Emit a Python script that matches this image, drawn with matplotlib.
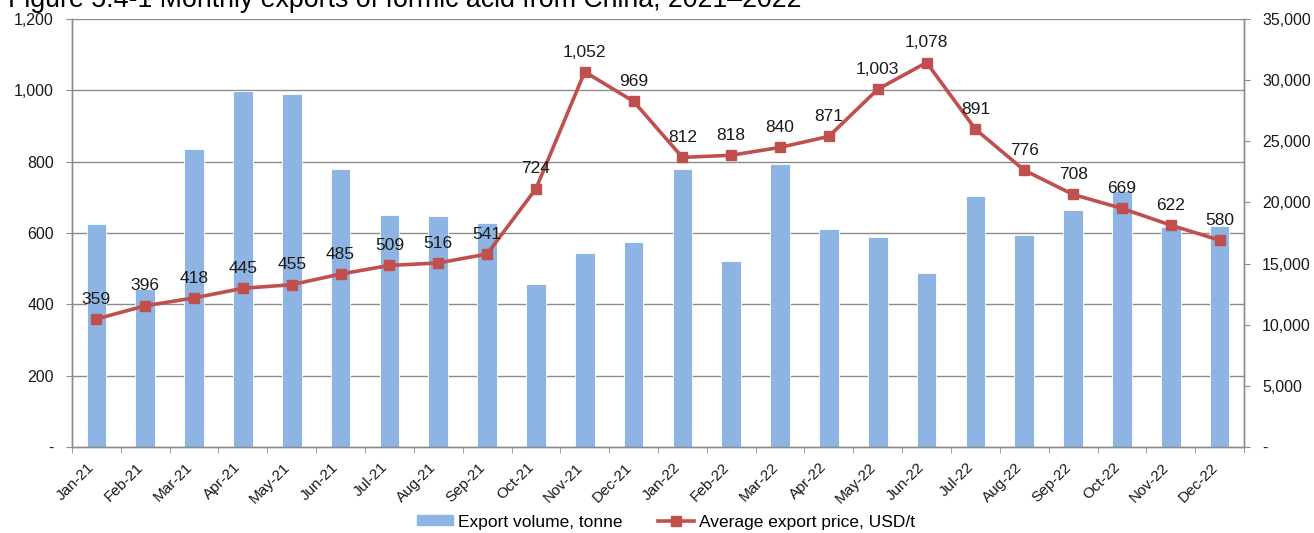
import matplotlib
matplotlib.use("Agg")
import matplotlib.pyplot as plt
import numpy as np
from matplotlib.ticker import FuncFormatter, FixedLocator
from matplotlib.patches import Patch
from matplotlib.lines import Line2D
from matplotlib.transforms import ScaledTranslation

plt.rcParams['font.family'] = ['Liberation Sans', 'DejaVu Sans']

months = ["Jan-21", "Feb-21", "Mar-21", "Apr-21", "May-21", "Jun-21", "Jul-21", "Aug-21",
          "Sep-21", "Oct-21", "Nov-21", "Dec-21", "Jan-22", "Feb-22", "Mar-22", "Apr-22",
          "May-22", "Jun-22", "Jul-22", "Aug-22", "Sep-22", "Oct-22", "Nov-22", "Dec-22"]

export_volume = [18200, 12900, 24350, 29150, 28900, 22700, 19000, 18850,
                 18300, 13300, 15850, 16750, 22700, 15200, 23150, 17850,
                 17200, 14200, 20550, 17300, 19350, 20900, 17950, 18100]

export_price = [359, 396, 418, 445, 455, 485, 509, 516, 541, 724, 1052, 969,
                812, 818, 840, 871, 1003, 1078, 891, 776, 708, 669, 622, 580]

title = "Figure 5.4-1 Monthly exports of formic acid from China, 2021\u20132022"
bar_label = "Export volume, tonne"
line_label = "Average export price, USD/t"

bar_color = "#8EB4E3"
line_color = "#C0504D"
grid_color = "#8C8C8C"
text_color = "#1A1A1A"

fig = plt.figure(figsize=(13.14, 5.33), dpi=100)
ax = fig.add_axes([72/1314, 1-447/533, (1244-72)/1314, (447-19)/533])
ax2 = ax.twinx()

x = np.arange(len(months))

# bars on right axis (tonnes)
ax2.bar(x, export_volume, width=0.4, color=bar_color, edgecolor="white", linewidth=0.6, zorder=2)
ax2.set_ylim(0, 35000)
ax2.set_yticks(np.arange(0, 35001, 5000))

# line on left axis (USD/t)
ax.set_zorder(ax2.get_zorder() + 1)
ax.patch.set_visible(False)
ax.plot(x, export_price, color=line_color, linewidth=2.6, marker="s", markersize=7.5,
        markeredgecolor=line_color, zorder=3)
for xi, v in zip(x, export_price):
    ax.annotate(f"{v:,}", (xi, v), xytext=(0, 11), textcoords="offset points",
                ha="center", va="baseline", fontsize=12.5, color=text_color)

ax.set_ylim(0, 1200)
ax.set_yticks(np.arange(0, 1201, 200))
ax.set_xlim(-0.5, len(months) - 0.5)

fmt = FuncFormatter(lambda v, p: "-" if v == 0 else f"{int(v):,}")
ax.yaxis.set_major_formatter(fmt)
ax2.yaxis.set_major_formatter(fmt)

# gridlines from left axis, drawn beneath bars
for yv in np.arange(200, 1201, 200):
    ax2.axhline(yv / 1200 * 35000, color=grid_color, linewidth=1.0, zorder=1)

# x ticks
ax.set_xticks(x)
ax.set_xticklabels(months, rotation=45, ha="right", va="center", rotation_mode="anchor",
                   fontsize=11, color=text_color)
ax.tick_params(axis="x", length=0, pad=13)
for lab in ax.get_xticklabels():
    lab.set_transform(lab.get_transform() + ScaledTranslation(-3/72, 0, fig.dpi_scale_trans))
ax.xaxis.set_minor_locator(FixedLocator(np.arange(-0.5, len(months), 1)))
ax.tick_params(axis="x", which="minor", length=4, color=grid_color, direction="out")

ax.tick_params(axis="y", labelsize=11.5, labelcolor=text_color, length=4,
               color=grid_color, direction="out", pad=9)
ax2.tick_params(axis="y", labelsize=11.5, labelcolor=text_color, length=4,
                color=grid_color, direction="out", pad=9)

for a in (ax, ax2):
    a.spines["top"].set_visible(False)
    for s in ("left", "right", "bottom"):
        a.spines[s].set_color(grid_color)
        a.spines[s].set_linewidth(1.0)

# title (partly clipped at top, as in original)
fig.text(8/1314, 1 - 7/533, title, fontsize=19.3, color="black", ha="left", va="baseline")

handles = [Patch(facecolor=bar_color, edgecolor=bar_color),
           Line2D([0], [0], color=line_color, linewidth=2.6, marker="s", markersize=7.5)]
fig.legend(handles, [bar_label, line_label], loc="center", bbox_to_anchor=(666/1314, 1 - 522/533),
           ncol=2, frameon=False, fontsize=12.5, handlelength=2.1, handleheight=0.5,
           columnspacing=2.0, handletextpad=0.3)

fig.savefig("out.png", dpi=100)
